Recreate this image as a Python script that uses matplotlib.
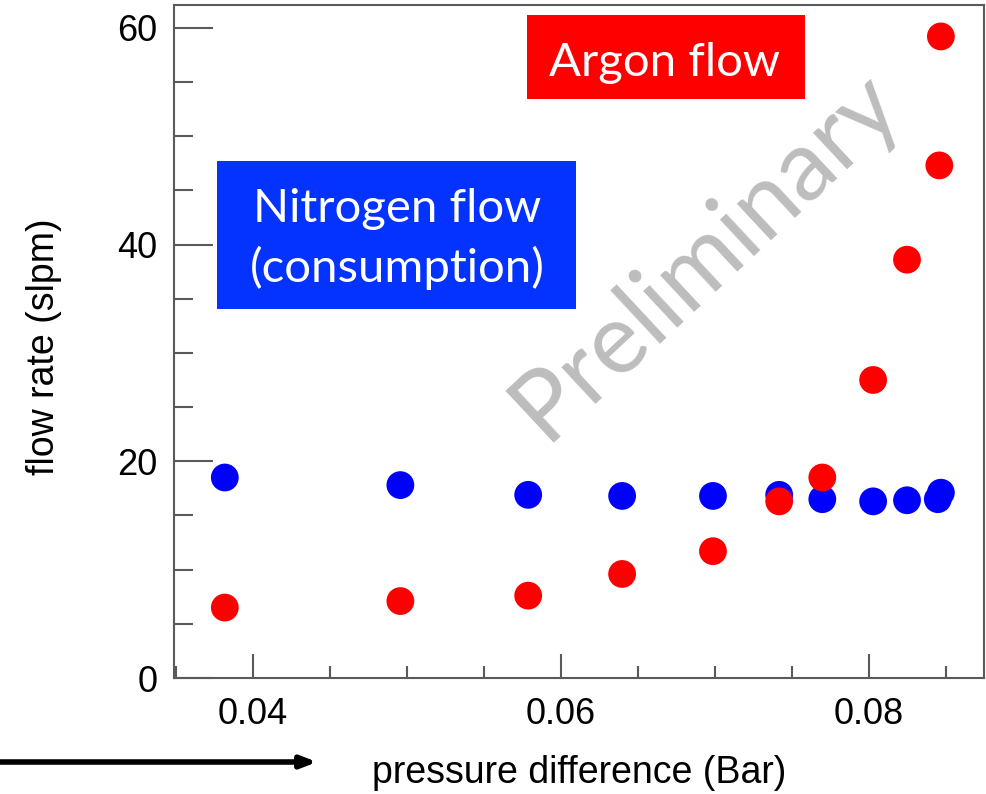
import numpy as np
import matplotlib.pyplot as plt
from matplotlib.patches import Rectangle
from matplotlib.ticker import MultipleLocator

# pressure difference (Bar) and flow rate (slpm)
p_argon = [0.0382, 0.0496, 0.0579, 0.0640, 0.0699, 0.0742, 0.0770, 0.0803, 0.0825, 0.0846, 0.0847]
flow_argon = [6.5, 7.1, 7.6, 9.6, 11.7, 16.3, 18.5, 27.5, 38.6, 47.3, 59.2]

p_nitrogen = [0.0382, 0.0496, 0.0579, 0.0640, 0.0699, 0.0742, 0.0770, 0.0803, 0.0825, 0.0845, 0.0847]
flow_nitrogen = [18.5, 17.8, 16.9, 16.8, 16.8, 16.9, 16.5, 16.3, 16.4, 16.5, 17.1]

x_major = [0.04, 0.06, 0.08]
y_major = [0, 20, 40, 60]

label_font = 'Liberation Sans'
box_font = 'Lato'
frame_col = '#5a5a5a'

fig = plt.figure(figsize=(9.86, 7.94), dpi=100)
ax = fig.add_axes([174/986, 1 - 678/794, 810/986, 673/794])

ax.scatter(p_nitrogen, flow_nitrogen, s=400, c='#0000ff', edgecolors='none', zorder=3)
ax.scatter(p_argon, flow_argon, s=400, c='#ff0000', edgecolors='none', zorder=4)

ax.set_xlim(0.0349, 0.0875)
ax.set_ylim(0, 62.1)

ax.set_xticks(x_major)
ax.set_xticklabels(['0.04', '0.06', '0.08'])
ax.set_yticks(y_major)
ax.xaxis.set_minor_locator(MultipleLocator(0.005))
ax.yaxis.set_minor_locator(MultipleLocator(5))

ax.tick_params(axis='x', which='major', direction='in', length=17, width=1.5,
               color=frame_col, pad=14, labelsize=26)
ax.tick_params(axis='x', which='minor', direction='in', length=9, width=1.5, color=frame_col)
ax.tick_params(axis='y', which='major', direction='in', length=28, width=1.5,
               color=frame_col, pad=12, labelsize=26)
ax.tick_params(axis='y', which='minor', direction='in', length=14, width=1.5, color=frame_col)
for lab in ax.get_xticklabels() + ax.get_yticklabels():
    lab.set_fontfamily(label_font)

for sp in ax.spines.values():
    sp.set_color(frame_col)
    sp.set_linewidth(1.5)

ax.set_xlabel('pressure difference (Bar)', fontsize=27, fontfamily=label_font, va='top')
ax.xaxis.set_label_coords(0.5, -0.115)
ax.set_ylabel('flow rate (slpm)', fontsize=27, fontfamily=label_font)
ax.yaxis.set_label_coords(-0.138, 0.493)

# coloured labels
ax.add_patch(Rectangle((0.4358, 0.8603), 0.3432, 0.1248, transform=ax.transAxes,
                       facecolor='#ff0000', edgecolor='none', zorder=2))
ax.text(0.606, 0.8945, 'Argon flow', transform=ax.transAxes, ha='center', va='baseline',
        color='white', fontsize=34, fontfamily=box_font, zorder=5)

ax.add_patch(Rectangle((0.0531, 0.5483), 0.4432, 0.2199, transform=ax.transAxes,
                       facecolor='#0433ff', edgecolor='none', zorder=2))
ax.text(0.2753, 0.6776, 'Nitrogen flow', transform=ax.transAxes, ha='center', va='baseline',
        color='white', fontsize=34, fontfamily=box_font, zorder=5)
ax.text(0.2753, 0.5884, '(consumption)', transform=ax.transAxes, ha='center', va='baseline',
        color='white', fontsize=34, fontfamily=box_font, zorder=5)

# watermark
ax.text(0.6556, 0.628, 'Preliminary', transform=ax.transAxes, ha='center', va='center',
        rotation=43, rotation_mode='anchor', color='#bdbdbd', fontsize=71,
        fontfamily=box_font, zorder=1)

# arrow under the axis
ax.annotate('', xy=(317/986, 1 - 762/794), xytext=(0, 1 - 762/794),
            xycoords='figure fraction', textcoords='figure fraction',
            arrowprops=dict(arrowstyle='-|>,head_length=0.9,head_width=0.35',
                            color='black', lw=4, shrinkA=0, shrinkB=0),
            annotation_clip=False)

fig.savefig('out.png', dpi=100)
